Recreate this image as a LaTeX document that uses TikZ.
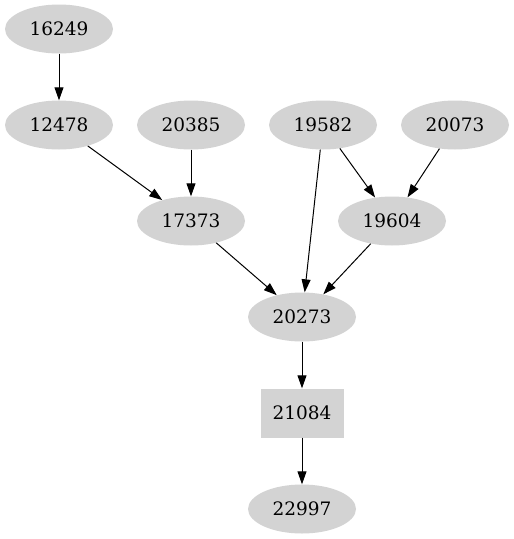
\documentclass[tikz,border=0pt]{standalone}
\usepackage{fontspec}
\setmainfont{DejaVu Serif}
\usetikzlibrary{shapes.geometric,arrows.meta}
\definecolor{nodegray}{HTML}{D3D3D3}
\begin{document}
\begin{tikzpicture}[x=1pt,y=1pt,
  ell/.style={ellipse,fill=nodegray,minimum width=108pt,minimum height=49pt,inner sep=0pt,font=\fontsize{18.5}{22}\selectfont},
  boxn/.style={rectangle,fill=nodegray,minimum width=83pt,minimum height=49pt,inner sep=0pt,font=\fontsize{18.5}{22}\selectfont},
  edge/.style={draw=black,line width=1pt,-{Triangle[length=13pt,width=9pt]}}]
\useasboundingbox (0,0) rectangle (514,-539);
\node[ell] (n16249) at (59,-29) {16249};
\node[ell] (n12478) at (59,-125) {12478};
\node[ell] (n20385) at (191,-125) {20385};
\node[ell] (n19582) at (323,-125) {19582};
\node[ell] (n20073) at (455,-125) {20073};
\node[ell] (n17373) at (191,-221) {17373};
\node[ell] (n19604) at (392,-221) {19604};
\node[ell] (n20273) at (302,-317) {20273};
\node[boxn] (n21084) at (302,-413) {21084};
\node[ell] (n22997) at (302,-509) {22997};
\draw[edge] (n16249) -- (n12478);
\draw[edge] (n12478) -- (n17373);
\draw[edge] (n20385) -- (n17373);
\draw[edge] (n19582) -- (n19604);
\draw[edge] (n20073) -- (n19604);
\draw[edge] (n19582) -- (n20273);
\draw[edge] (n17373) -- (n20273);
\draw[edge] (n19604) -- (n20273);
\draw[edge] (n20273) -- (n21084);
\draw[edge] (n21084) -- (n22997);
\end{tikzpicture}
\end{document}
